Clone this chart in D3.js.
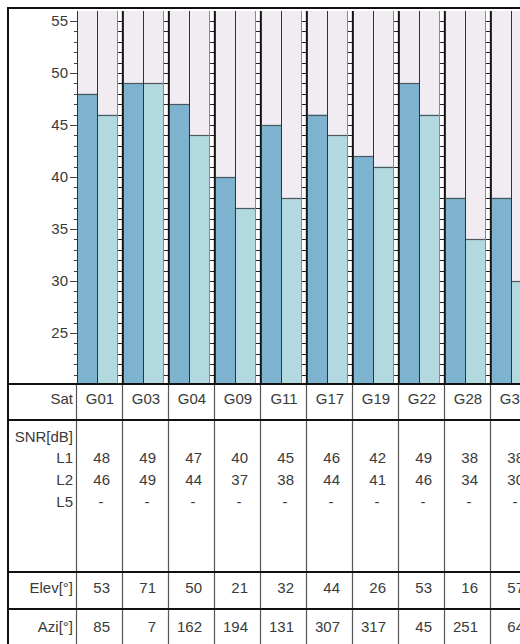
<!DOCTYPE html>
<html>
<head>
<meta charset="utf-8">
<script src="https://cdn.jsdelivr.net/npm/d3@7"></script>
<style>
html,body{margin:0;padding:0;background:#fff;overflow:hidden;}
svg{display:block;}
text{font-family:Arial,"Liberation Sans",sans-serif;font-size:15px;fill:#3a3a3a;}
</style>
</head>
<body>
<script>
// ---- data ----
const sats  = ["G01","G03","G04","G09","G11","G17","G19","G22","G28","G32"];
const snrL1 = [48, 49, 47, 40, 45, 46, 42, 49, 38, 38];
const snrL2 = [46, 49, 44, 37, 38, 44, 41, 46, 34, 30];
const snrL5 = [null,null,null,null,null,null,null,null,null,null];
const elev  = [53, 71, 50, 21, 32, 44, 26, 53, 16, 57];
const azi   = [85, 7, 162, 194, 131, 307, 317, 45, 251, 64];
const yTicks = [25, 30, 35, 40, 45, 50, 55];
const bands = ["L1", "L2"];
const rowLabels = ["Sat", "SNR[dB]", "L1", "L2", "L5", "Elev[°]", "Azi[°]"];

// ---- layout ----
const W = 560, H = 660;
const plotLeft = 77, plotTop = 11, plotBottom = 383;
const groupW = 46, ladderW = 6;

const svg = d3.select("body").append("svg").attr("width", W).attr("height", H);

const x = d3.scaleBand().domain(sats).range([plotLeft, plotLeft + groupW * sats.length]).padding(0);
const xs = d3.scaleBand().domain(bands).range([0, groupW - ladderW]).padding(0);
const y = d3.scaleLinear().domain([20.2, 55.95]).range([plotBottom, plotTop]);

const colors = { L1: "#7eb3cf", L2: "#b2d9e0" };
const slotBg = "#f1ecf1";

const data = sats.map((s, i) => ({ sat: s, L1: snrL1[i], L2: snrL2[i], L5: snrL5[i], elev: elev[i], azi: azi[i] }));

const chart = svg.append("g");

// slot backgrounds
const g = chart.selectAll("g.grp").data(data).join("g").attr("class", "grp")
  .attr("transform", d => `translate(${x(d.sat)},0)`);

bands.forEach(b => {
  g.append("rect").attr("x", xs(b)).attr("y", plotTop).attr("width", xs.bandwidth())
    .attr("height", plotBottom - plotTop).attr("fill", slotBg);
  g.append("rect").attr("x", xs(b)).attr("y", d => y(d[b])).attr("width", xs.bandwidth())
    .attr("height", d => plotBottom - y(d[b])).attr("fill", colors[b]);
  g.append("line").attr("x1", xs(b)).attr("x2", xs(b) + xs.bandwidth())
    .attr("y1", d => Math.round(y(d[b])) + 0.5).attr("y2", d => Math.round(y(d[b])) + 0.5)
    .attr("stroke", "#4d5860").attr("stroke-width", 1.2);
});

// slot boundary lines
g.append("line").attr("x1", xs("L2") + 0.5).attr("x2", xs("L2") + 0.5)
  .attr("y1", plotTop).attr("y2", plotBottom).attr("stroke", "#333").attr("stroke-width", 1);
g.append("line").attr("x1", 0.5).attr("x2", 0.5)
  .attr("y1", plotTop).attr("y2", plotBottom).attr("stroke", "#333").attr("stroke-width", 1);

// ladder separators
const lx = groupW - ladderW;
g.append("rect").attr("x", lx).attr("y", plotTop).attr("width", ladderW)
  .attr("height", plotBottom - plotTop).attr("fill", "#fff");
const rungVals = d3.range(21, 56);
g.each(function () {
  d3.select(this).selectAll("line.rung").data(rungVals).join("line").attr("class", "rung")
    .attr("x1", lx).attr("x2", groupW)
    .attr("y1", v => Math.round(y(v)) + 0.5).attr("y2", v => Math.round(y(v)) + 0.5)
    .attr("stroke", "#222").attr("stroke-width", 1);
});
g.append("line").attr("x1", lx + 0.5).attr("x2", lx + 0.5)
  .attr("y1", plotTop).attr("y2", plotBottom).attr("stroke", "#8a8a8a").attr("stroke-width", 1);
g.append("line").attr("x1", groupW - 0.5).attr("x2", groupW - 0.5)
  .attr("y1", plotTop).attr("y2", plotBottom).attr("stroke", "#111").attr("stroke-width", 1.3);

// y axis
const minor = d3.range(21, 56);
svg.append("g").selectAll("line").data(minor).join("line")
  .attr("x1", v => v % 5 === 0 ? plotLeft - 7 : plotLeft - 3).attr("x2", plotLeft)
  .attr("y1", v => Math.round(y(v)) + 0.5).attr("y2", v => Math.round(y(v)) + 0.5)
  .attr("stroke", "#444").attr("stroke-width", 1);
svg.append("g").selectAll("text").data(yTicks).join("text")
  .attr("x", plotLeft - 9).attr("y", v => y(v) + 5).attr("text-anchor", "end").text(v => v);
svg.append("line").attr("x1", plotLeft + 0.5).attr("x2", plotLeft + 0.5)
  .attr("y1", plotTop).attr("y2", plotBottom).attr("stroke", "#333");

// ---- table ----
const rowLines = [384, 420, 572, 609];
const tableBottom = 660;
// vertical lines in table
const vx = [plotLeft - 1].concat(sats.map(s => x(s) + groupW - 1));
svg.append("g").selectAll("line").data(vx).join("line")
  .attr("x1", v => v + 0.5).attr("x2", v => v + 0.5)
  .attr("y1", rowLines[0]).attr("y2", tableBottom)
  .attr("stroke", "#555").attr("stroke-width", 1.2);
svg.append("g").selectAll("line").data(rowLines).join("line")
  .attr("x1", 8).attr("x2", W).attr("y1", v => v).attr("y2", v => v)
  .attr("stroke", "#111").attr("stroke-width", 2);

// row labels
const labelY = [404, 442, 463, 485, 507, 593, 632];
svg.append("g").selectAll("text").data(rowLabels).join("text")
  .attr("x", 73).attr("y", (d, i) => labelY[i]).attr("text-anchor", "end").text(d => d);

// cells
const cells = svg.append("g");
cells.selectAll("text.sat").data(data).join("text").attr("class", "sat")
  .attr("x", d => x(d.sat) + 23).attr("y", labelY[0]).attr("text-anchor", "middle").text(d => d.sat);
const numRows = [["L1", labelY[2]], ["L2", labelY[3]], ["elev", labelY[5]], ["azi", labelY[6]]];
numRows.forEach(([k, yy]) => {
  cells.selectAll("text." + k).data(data).join("text").attr("class", k)
    .attr("x", d => x(d.sat) + 33).attr("y", yy).attr("text-anchor", "end").text(d => d[k]);
});
cells.selectAll("text.l5").data(data).join("text").attr("class", "l5")
  .attr("x", d => x(d.sat) + 24).attr("y", labelY[4]).attr("text-anchor", "middle")
  .text(d => d.L5 == null ? "-" : d.L5);

// frame
svg.append("line").attr("x1", 8).attr("x2", W).attr("y1", 8).attr("y2", 8)
  .attr("stroke", "#111").attr("stroke-width", 2);
svg.append("line").attr("x1", 8).attr("x2", 8).attr("y1", 7).attr("y2", tableBottom)
  .attr("stroke", "#111").attr("stroke-width", 2);
</script>
</body>
</html>
